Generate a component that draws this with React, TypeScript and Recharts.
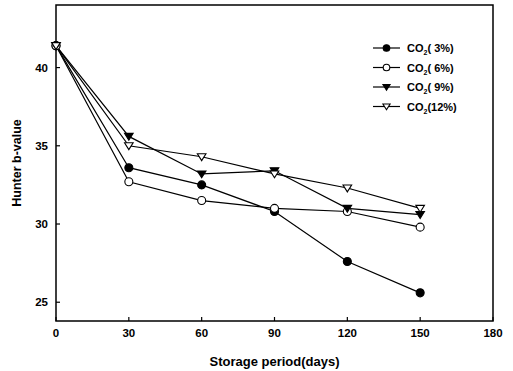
import {
  LineChart,
  Line,
  XAxis,
  YAxis,
  ReferenceArea,
} from "recharts";

const days = [0, 30, 60, 90, 120, 150];
const co2_3 = [41.4, 33.6, 32.5, 30.8, 27.6, 25.6];
const co2_6 = [41.4, 32.7, 31.5, 31.0, 30.8, 29.8];
const co2_9 = [41.4, 35.6, 33.2, 33.4, 31.0, 30.6];
const co2_12 = [41.4, 35.0, 34.3, 33.2, 32.3, 31.0];

const xTicks = [0, 30, 60, 90, 120, 150, 180];
const yTicks = [25, 30, 35, 40];

const data = days.map((d, i) => ({
  day: d,
  c3: co2_3[i],
  c6: co2_6[i],
  c9: co2_9[i],
  c12: co2_12[i],
}));

const FONT = "'Liberation Sans', Arial, sans-serif";

type Kind = "fillCircle" | "openCircle" | "fillTri" | "openTri";

function Marker({ cx, cy, kind, size = 4 }: { cx: number; cy: number; kind: Kind; size?: number }) {
  if (cx == null || cy == null) return null;
  if (kind === "fillCircle" || kind === "openCircle") {
    return (
      <circle
        cx={cx}
        cy={cy}
        r={size}
        fill={kind === "fillCircle" ? "#000" : "#fff"}
        stroke="#000"
        strokeWidth={1.1}
      />
    );
  }
  const s = size + 0.3;
  const pts = `${cx - s},${cy - s * 0.7} ${cx + s},${cy - s * 0.7} ${cx},${cy + s * 0.9}`;
  return (
    <polygon
      points={pts}
      fill={kind === "fillTri" ? "#000" : "#fff"}
      stroke="#000"
      strokeWidth={1.1}
    />
  );
}

const series: Array<{ key: string; kind: Kind; label: string }> = [
  { key: "c3", kind: "fillCircle", label: "( 3%)" },
  { key: "c6", kind: "openCircle", label: "( 6%)" },
  { key: "c9", kind: "fillTri", label: "( 9%)" },
  { key: "c12", kind: "openTri", label: "(12%)" },
];

function XTick(props: any) {
  const { x, y, payload } = props;
  return (
    <g>
      <line x1={x} x2={x} y1={y - 12} y2={y - 16} stroke="#000" strokeWidth={1.2} />
      <text x={x} y={y} dy={4} textAnchor="middle" fontFamily={FONT} fontSize={11.5} fontWeight="bold" fill="#000">
        {payload.value}
      </text>
    </g>
  );
}

function YTick(props: any) {
  const { x, y, payload } = props;
  return (
    <g>
      <line x1={x + 8} x2={x + 12} y1={y} y2={y} stroke="#000" strokeWidth={1.2} />
      <text x={x} y={y} dy={4} textAnchor="end" fontFamily={FONT} fontSize={11.5} fontWeight="bold" fill="#000">
        {payload.value}
      </text>
    </g>
  );
}

function LegendBox() {
  return (
    <svg width={110} height={80} style={{ position: "absolute", left: 370, top: 38 }}>
      {series.map((s, i) => {
        const y = 10 + i * 19.5;
        return (
          <g key={s.key}>
            <line x1={3} x2={30} y1={y} y2={y} stroke="#000" strokeWidth={1.2} />
            <Marker cx={16.5} cy={y} kind={s.kind} size={3.3} />
            <text x={37} y={y + 4} fontFamily={FONT} fontSize={11} fontWeight="bold" fill="#000">
              CO
              <tspan fontSize={7} dy={3}>2</tspan>
              <tspan dy={-3}>{s.label}</tspan>
            </text>
          </g>
        );
      })}
    </svg>
  );
}

export default function App() {
  return (
    <div style={{ position: "absolute", left: 0, top: 0, width: 513, height: 371, background: "#fff" }}>
      <LineChart
        width={513}
        height={371}
        data={data}
        margin={{ top: 5, right: 20, left: 0, bottom: 0 }}
      >
        <XAxis
          dataKey="day"
          type="number"
          domain={[0, 180]}
          ticks={xTicks}
          axisLine={false}
          tickLine={false}
          tickSize={0}
          tickMargin={12}
          height={50}
          tick={<XTick />}
          label={{
            value: "Storage period(days)",
            position: "insideBottom",
            offset: 5,
            style: { fontFamily: FONT, fontSize: 13, fontWeight: "bold", fill: "#000" },
          }}
        />
        <YAxis
          type="number"
          domain={[23.8, 44]}
          ticks={yTicks}
          axisLine={false}
          tickLine={false}
          tickSize={0}
          tickMargin={8}
          width={56}
          tick={<YTick />}
          label={{
            value: "Hunter b-value",
            angle: -90,
            position: "insideLeft",
            offset: 17,
            style: { fontFamily: FONT, fontSize: 12.5, fontWeight: "bold", fill: "#000", textAnchor: "middle" },
          }}
        />
        <ReferenceArea
          x1={0}
          x2={180}
          y1={23.8}
          y2={44}
          fill="none"
          stroke="#000"
          strokeWidth={1.5}
          ifOverflow="extendDomain"
        />
        {series.map((s) => (
          <Line
            key={s.key}
            dataKey={s.key}
            type="linear"
            stroke="#000"
            strokeWidth={1.2}
            dot={(p: any) => <Marker key={`${s.key}-${p.index}`} cx={p.cx} cy={p.cy} kind={s.kind} />}
            activeDot={false}
            isAnimationActive={false}
          />
        ))}
      </LineChart>
      <LegendBox />
    </div>
  );
}
